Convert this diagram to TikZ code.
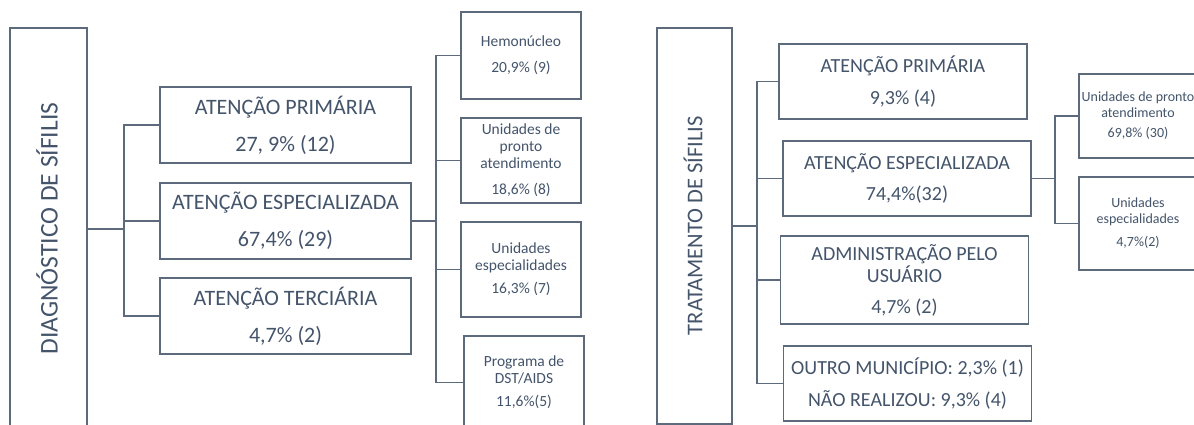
\documentclass[tikz,border=0pt]{standalone}
\usepackage{fontspec}
\setmainfont{Carlito}
\usepackage{tikz}
\usetikzlibrary{positioning}
\definecolor{texto}{HTML}{44546A}
\definecolor{linha}{HTML}{5D6A7C}

\begin{document}
\begin{tikzpicture}[x=1pt, y=-1pt, line width=1.2pt,
		caixa/.style={draw=linha, text=texto, align=center, inner sep=0pt},
		lateral/.style={caixa, minimum width=77pt},
		grande/.style={caixa, minimum width=251pt, minimum height=76pt, font=\fontsize{22}{37}\selectfont},
		media/.style={caixa, minimum width=248pt, minimum height=75pt, font=\fontsize{20}{22}\selectfont},
		pequena/.style={caixa, minimum width=120pt, font=\fontsize{15.5}{17}\selectfont},
		miuda/.style={caixa, minimum width=118pt, font=\fontsize{14}{16}\selectfont},
		titulo/.style={rotate=90, text=texto},
		elo/.style={draw=linha}]
		\useasboundingbox (0,0) rectangle (1194,425);
		\fill[white] (0,0) rectangle (1194,425);
		\clip (0,0) rectangle (1194,425);
		
		% diagnostico
		\node[lateral, minimum height=402pt] (diag) at (48.5,229) {};
		\node[titulo, font=\fontsize{25.5}{30}\selectfont] (diagtxt) at (47,228.5) {DIAGNÓSTICO DE SÍFILIS};
		\node[grande] (ap) at (285.5,125) {ATENÇÃO PRIMÁRIA\\27, 9\% (12)};
		\node[grande] (ae) at (285.5,221) {ATENÇÃO ESPECIALIZADA\\67,4\% (29)};
		\node[grande] (at) at (285.5,316) {ATENÇÃO TERCIÁRIA\\4,7\% (2)};
		\node[pequena, minimum height=87pt] (hemo) at (521,55.5) {Hemonúcleo\\[9pt]20,9\% (9)};
		\node[pequena, minimum height=85pt] (pronto) at (521,160.5) {Unidades de\\pronto\\atendimento\\[9pt]18,6\% (8)};
		\node[pequena, minimum height=95pt] (espec) at (521,269.5) {Unidades\\especialidades\\[6pt]16,3\% (7)};
		\node[pequena, minimum height=93pt] (dst) at (524,382.5) {Programa de\\DST/AIDS\\[6pt]11,6\%(5)};
		
		\coordinate (b1) at (124,229);
		\draw[elo] (diag.east) -- (b1);
		\draw[elo] (ap.west) -| (b1); \draw[elo] (ae.west) -| (b1); \draw[elo] (at.west) -| (b1);
		\coordinate (b2) at (436,221);
		\draw[elo] (ae.east) -- (b2);
		\draw[elo] (hemo.west) -| (b2); \draw[elo] (pronto.west) -| (b2);
		\draw[elo] (espec.west) -| (b2); \draw[elo] (dst.west) -| (b2);
		
		% tratamento
		\node[lateral, minimum width=75pt, minimum height=396pt] (trat) at (694.5,226) {};
		\node[titulo, font=\fontsize{22.5}{27}\selectfont] (trattxt) at (693,225.5) {TRATAMENTO DE SÍFILIS};
		\node[media] (tp) at (903,81.5) {ATENÇÃO PRIMÁRIA\\[10pt]9,3\% (4)};
		\node[media] (te) at (907,178.5) {ATENÇÃO ESPECIALIZADA\\[9pt]74,4\%(32)};
		\node[media, minimum height=88pt] (tu) at (904.5,280) {ADMINISTRAÇÃO PELO\\USUÁRIO\\[9pt]4,7\% (2)};
		\node[media] (to) at (907.5,383.5) {OUTRO MUNICÍPIO: 2,3\% (1)\\[10pt]NÃO REALIZOU: 9,3\% (4)};
		\node[miuda, minimum height=84pt] (r1) at (1138,116) {Unidades de pronto\\atendimento\\[4pt]69,8\% (30)};
		\node[miuda, minimum height=93pt] (r2) at (1138,223.5) {Unidades\\especialidades\\[7pt]4,7\%(2)};
		
		\coordinate (b3) at (757,226);
		\draw[elo] (trat.east) -- (b3);
		\draw[elo] (tp.west) -| (b3); \draw[elo] (te.west) -| (b3);
		\draw[elo] (tu.west) -| (b3); \draw[elo] (to.west) -| (b3);
		\coordinate (b4) at (1055,178.5);
		\draw[elo] (te.east) -- (b4);
		\draw[elo] (r1.west) -| (b4); \draw[elo] (r2.west) -| (b4);
\end{tikzpicture}
\end{document}
